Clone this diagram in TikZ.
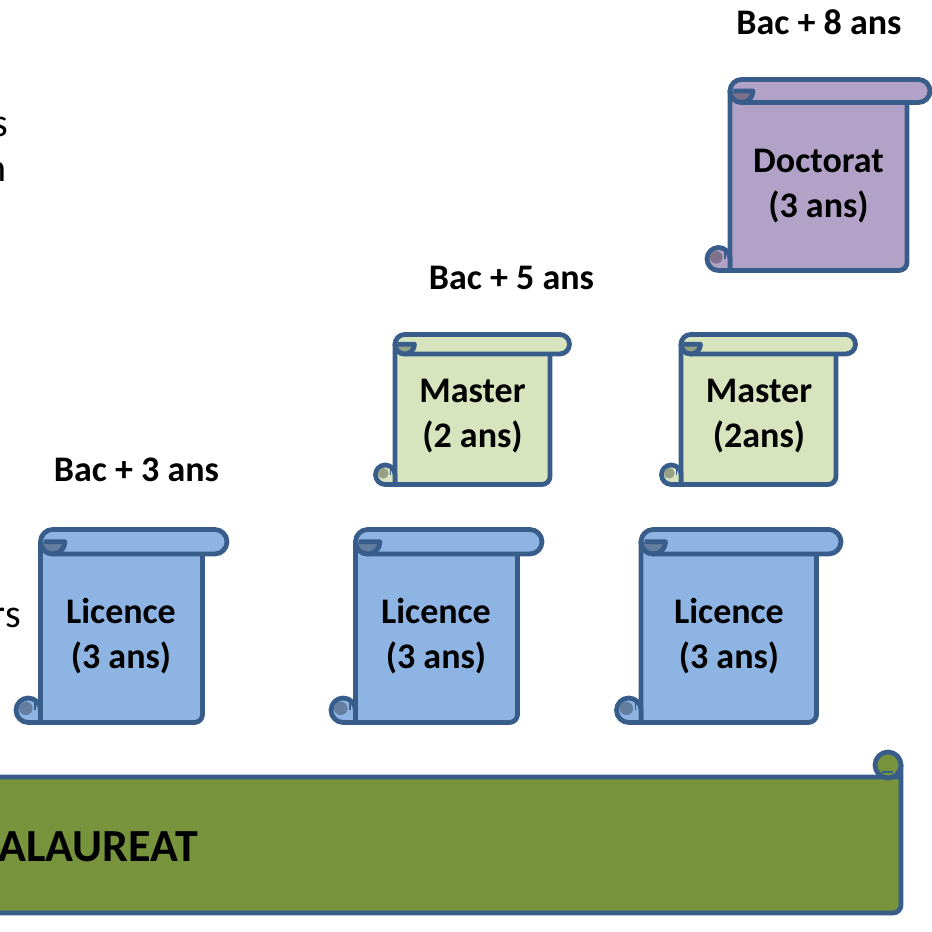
\documentclass[tikz,border=0pt]{standalone}
\usepackage{fontspec}
\setmainfont{Carlito}
\usepackage{xcolor}
\usetikzlibrary{calc}
\usetikzlibrary{positioning}

\definecolor{scrollblue}{HTML}{8EB4E3}
\definecolor{scrollgreen}{HTML}{D7E4BD}
\definecolor{scrollpurple}{HTML}{B3A2C7}
\definecolor{bacgreen}{HTML}{77933C}
\definecolor{rimblue}{HTML}{385D8A}

\tikzset{
	scrollline/.style={draw=rimblue, line width=4.8pt, line join=round},
}

% vertical scroll: body left, bottom, right, top, roll size, fill colour
\newcommand{\vscroll}[6]{%
	\pgfmathsetmacro{\rr}{#5/2}%
	\filldraw[scrollline, fill=#6] (#1,#4-\rr) -- (#1,#2) -- (#3-8,#2)
		arc[start angle=270, end angle=360, radius=8] -- (#3,#4-\rr) -- cycle;
	% lower roll
	\filldraw[scrollline, fill=#6] (#1-\rr,#2) arc[start angle=270, end angle=0, radius=\rr] -- (#1,#2) -- cycle;
	\fill[#6!70!black] (#1-1.2*\rr,#2+1.15*\rr) circle[radius=0.55*\rr];
	\draw[scrollline, line width=1.5pt] (#1-0.45*\rr,#2+\rr) -- (#1-0.45*\rr,#2+1.6*\rr);
	% upper roll
	\filldraw[scrollline, fill=#6, rounded corners=\rr pt] (#1,#4-#5) rectangle (#3+#5,#4);
	\fill[#6!70!black] (#1,#4-\rr) arc[start angle=180, end angle=360, radius=\rr] -- cycle;
	\draw[scrollline] (#1+0.3*\rr,#4-\rr) -- (#1+#5,#4-\rr) arc[start angle=0, end angle=-180, radius=\rr];
}

\begin{document}
\begin{tikzpicture}[x=1pt, y=1pt]
	\tikzstyle{bac}=[font=\fontsize{36}{45}\selectfont\bfseries, inner sep=0pt, anchor=base]
	\tikzstyle{scrolltext}=[font=\fontsize{36}{45}\selectfont\bfseries, align=center, inner sep=0pt]
	\tikzstyle{cuttext}=[font=\fontsize{40}{45}\selectfont, inner sep=0pt, anchor=base east]
	
	\useasboundingbox (0,0) rectangle (932,932);
	\clip (0,0) rectangle (932,932);
	
	% banner
	\filldraw[scrollline, fill=bacgreen] (-60,19) -- (893,19) arc[start angle=270, end angle=360, radius=8]
		-- (901,167) |- (-60,155) -- cycle;
	\filldraw[scrollline, fill=bacgreen] (888,167) circle[radius=13];
	\draw[scrollline, line width=1.5pt] (882,160) -- (893,160);
	\node[font=\fontsize{46}{50}\selectfont\bfseries, inner sep=0pt, anchor=base east] (bacc) at (198,70) {ALAUREAT};
	
	% scrolls
	\vscroll{40.5}{209.5}{202.5}{402.5}{24.5}{scrollblue}
	\vscroll{355.5}{209.5}{517.5}{402.5}{24.5}{scrollblue}
	\vscroll{641}{209.5}{816.5}{402.5}{24.5}{scrollblue}
	\vscroll{395}{447.5}{550}{597.5}{19.5}{scrollgreen}
	\vscroll{681}{447.5}{836}{597.5}{19.5}{scrollgreen}
	\vscroll{730}{661.5}{907}{852.5}{23}{scrollpurple}
	
	\node[scrolltext] (lic1) at (121,295.5) {Licence\\(3 ans)};
	\node[scrolltext] (lic2) at (436,295.5) {Licence\\(3 ans)};
	\node[scrolltext] (lic3) at (729,295.5) {Licence\\(3 ans)};
	\node[scrolltext] (mas1) at (472.5,515.5) {Master\\(2 ans)};
	\node[scrolltext] (mas2) at (759,515.5) {Master\\(2ans)};
	\node[scrolltext] (doc) at (818.5,745.5) {Doctorat\\(3 ans)};
	
	\node[bac] (bac8) at (819,897) {Bac + 8 ans};
	\node[bac] (bac5) at (511.5,642) {Bac + 5 ans};
	\node[bac] (bac3) at (136.5,450) {Bac + 3 ans};
	
	% words cut by the left edge
	\node[cuttext] (cuts) at (8,795) {s};
	\node[cuttext] (cutn) at (7,750) {n};
	\node[cuttext] (cutrs) at (21,304) {rs};
\end{tikzpicture}
\end{document}
